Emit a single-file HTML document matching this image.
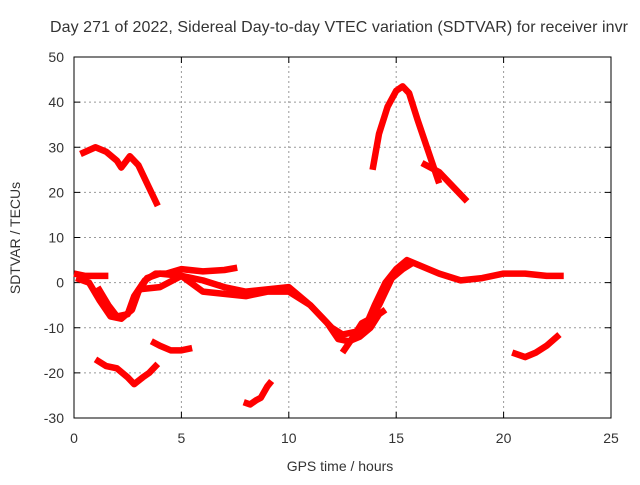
<!DOCTYPE html>
<html><head><meta charset="utf-8"><style>
body{margin:0;background:#fff}
svg text{font-family:"Liberation Sans",sans-serif;font-size:14px;fill:#333}
</style></head><body>
<svg width="640" height="480" xmlns="http://www.w3.org/2000/svg">
<text x="339" y="32" text-anchor="middle" style="font-size:16px" textLength="578">Day 271 of 2022, Sidereal Day-to-day VTEC variation (SDTVAR) for receiver invr</text>
<g id="grid"></g>
<rect x="74" y="57" width="537" height="361" fill="none" stroke="#000"/>
<g id="ticks"></g>
<g id="series"></g>
<text x="340" y="471" text-anchor="middle">GPS time / hours</text>
<text transform="translate(20,238) rotate(-90)" text-anchor="middle">SDTVAR / TECUs</text>
</svg>
<script>
const xTicks=[0,5,10,15,20,25];
const yTicks=[-30,-20,-10,0,10,20,30,40,50];
const seriesA=[[0.3,28.5],[1,30],[1.5,29],[2,27],[2.2,25.5],[2.6,28],[3,26],[3.5,21],[3.9,17]];
const seriesB=[[13.9,25],[14.2,33],[14.6,39],[15,42.5],[15.3,43.5],[15.6,42],[16,36],[16.5,29],[17,22]];
const seriesC=[[16.2,26.5],[17,24.5],[17.5,22],[18,19.5],[18.3,18]];
const seriesD=[[1.0,-17],[1.5,-18.5],[2,-19],[2.5,-21],[2.8,-22.5],[3.2,-21],[3.5,-20],[3.9,-18]];
const seriesE=[[3.6,-13],[4,-14],[4.5,-15],[5,-15],[5.5,-14.5]];
const seriesF=[[7.9,-26.5],[8.2,-27],[8.5,-26],[8.7,-25.5],[9,-23],[9.2,-21.8]];
const seriesG=[[20.4,-15.5],[21,-16.5],[21.5,-15.5],[22,-14],[22.6,-11.5]];
const seriesH1=[[0,2],[0.5,1.5],[1,1.5],[1.6,1.5]];
const seriesH2=[[0.1,1],[0.7,0],[1.2,-4],[1.7,-7.5],[2.2,-8],[2.7,-6],[3,-2],[3.4,1],[4,2],[5,1.5],[6,0.5],[7,-1],[8,-2],[9,-1.5],[10,-1],[11,-5],[12,-10],[12.5,-11.5],[13.5,-10.5],[14,-5],[14.5,0],[15,3],[15.5,5],[16,4],[17,2],[18,0.5],[19,1],[20,2],[21,2],[22,1.5],[22.8,1.5]];
const seriesH3=[[1.1,-1],[1.6,-5],[2,-7.5],[2.5,-7],[2.8,-3],[3.3,0.5],[3.8,2],[4.3,2],[5,3],[6,2.5],[7,2.8],[7.6,3.3]];
const seriesH4=[[3,-1.5],[4,-1],[5,1.5],[6,-2],[7,-2.5],[8,-3],[9,-2],[10,-2],[11,-5],[11.8,-9],[12.3,-12.5],[12.8,-13],[13.3,-12],[13.8,-10],[14.2,-7],[14.5,-6]];
const seriesH5=[[12.5,-15.5],[13,-12],[13.4,-9],[13.8,-8],[14.2,-5],[14.8,1],[15.3,3],[15.8,4.5]];
const allSeries=[seriesA,seriesB,seriesC,seriesD,seriesE,seriesF,seriesG,seriesH1,seriesH2,seriesH3,seriesH4,seriesH5];
const X0=74,X1=611,Y0=418,Y1=57;
const sx=t=>X0+(t-0)/25*(X1-X0);
const sy=v=>Y0-(v+30)/80*(Y0-Y1);
const NS="http://www.w3.org/2000/svg";
const grid=document.getElementById('grid'),ticks=document.getElementById('ticks'),ser=document.getElementById('series');
function mk(tag,attrs,parent){const e=document.createElementNS(NS,tag);for(const k in attrs)e.setAttribute(k,attrs[k]);parent.appendChild(e);return e;}
xTicks.forEach(t=>{
  if(t>0&&t<25){const g=mk('line',{x1:sx(t),x2:sx(t),y1:Y0,y2:Y1,stroke:'#999','stroke-dasharray':'2,3'},grid);
  
  }
  mk('line',{x1:sx(t),x2:sx(t),y1:Y0,y2:Y0-6,stroke:'#000'},ticks);
  mk('line',{x1:sx(t),x2:sx(t),y1:Y1,y2:Y1+6,stroke:'#000'},ticks);
  const l=mk('text',{x:sx(t),y:Y0+25,'text-anchor':'middle'},ticks);l.textContent=t;
  
  
});
yTicks.forEach(v=>{
  if(v>-30&&v<50){const g=mk('line',{x1:X0,x2:X1,y1:sy(v),y2:sy(v),stroke:'#999','stroke-dasharray':'2,3'},grid);
  
  }
  mk('line',{x1:X0,x2:X0+6,y1:sy(v),y2:sy(v),stroke:'#000'},ticks);
  mk('line',{x1:X1,x2:X1-6,y1:sy(v),y2:sy(v),stroke:'#000'},ticks);
  const l=mk('text',{x:X0-10,y:sy(v)+5,'text-anchor':'end'},ticks);l.textContent=v;
  
  
});
allSeries.forEach(s=>{
  const p=mk('polyline',{points:s.map(d=>sx(d[0])+','+sy(d[1])).join(' '),fill:'none',stroke:'#f00','stroke-width':6.5,'stroke-linejoin':'round','stroke-linecap':'butt'},ser);
  
  
});
</script>
</body></html>
